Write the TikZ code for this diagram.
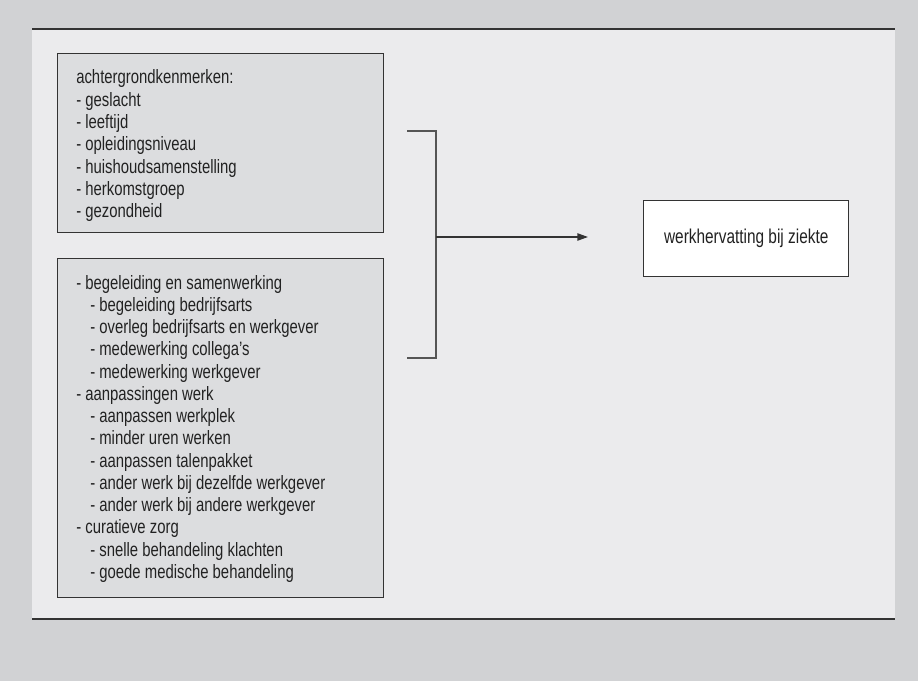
\documentclass[tikz,border=0pt]{standalone}
\usepackage{fontspec}
\setmainfont{Liberation Sans}[FakeStretch=0.77]
\usetikzlibrary{arrows.meta,positioning}
\definecolor{outerbg}{HTML}{D1D2D4}
\definecolor{panelbg}{HTML}{EBEBED}
\definecolor{boxbg}{HTML}{DCDDDF}
\definecolor{linedark}{HTML}{333333}
\definecolor{bracketgray}{HTML}{555555}
\definecolor{textcol}{HTML}{222222}
\tikzset{
  listbox/.style={draw=linedark, line width=1.1pt, fill=boxbg, anchor=north west,
    inner sep=0pt, minimum width=244.5pt},
  listtext/.style={anchor=base west, inner sep=0pt, text=textcol,
    font=\fontsize{14.5}{16.7}\selectfont},
  targetbox/.style={draw=linedark, line width=1.1pt, fill=white, anchor=north west,
    minimum width=153.75pt, minimum height=57pt, inner sep=0pt, align=center,
    text=textcol, font=\fontsize{15}{17}\selectfont},
  rule/.style={draw=linedark, line width=1.2pt},
  bracketline/.style={draw=bracketgray, line width=1.6pt},
  arrowline/.style={draw=linedark, line width=1pt, -{Triangle[length=8pt,width=5.5pt]}}
}
\newcommand{\sub}{\hspace*{10.5pt}}
\begin{document}
\begin{tikzpicture}[x=0.75pt,y=-0.75pt]
  \useasboundingbox (0,0) rectangle (918,681);
  \fill[outerbg] (0,0) rectangle (918,681);
  \fill[panelbg] (32,29) rectangle (895,619);
  \coordinate (tl) at (32,29);
  \coordinate (tr) at (895,29);
  \coordinate (bl) at (32,619);
  \coordinate (br) at (895,619);
  \draw[rule] (tl) -- (tr);
  \draw[rule] (bl) -- (br);

  \node[listbox, minimum height=134.25pt] (bg) at (57,53) {};
  \node[listtext] (bgtext) at (76,84) {%
    \begin{tabular}[t]{@{}l@{}}
    achtergrondkenmerken:\\
    - geslacht\\
    - leeftijd\\
    - opleidingsniveau\\
    - huishoudsamenstelling\\
    - herkomstgroep\\
    - gezondheid
    \end{tabular}};

  \node[listbox, minimum height=254.25pt] (int) at (57,258) {};
  \node[listtext] (inttext) at (76,289) {%
    \begin{tabular}[t]{@{}l@{}}
    - begeleiding en samenwerking\\
    \sub- begeleiding bedrijfsarts\\
    \sub- overleg bedrijfsarts en werkgever\\
    \sub- medewerking collega’s\\
    \sub- medewerking werkgever\\
    - aanpassingen werk\\
    \sub- aanpassen werkplek\\
    \sub- minder uren werken\\
    \sub- aanpassen talenpakket\\
    \sub- ander werk bij dezelfde werkgever\\
    \sub- ander werk bij andere werkgever\\
    - curatieve zorg\\
    \sub- snelle behandeling klachten\\
    \sub- goede medische behandeling
    \end{tabular}};

  \node[targetbox] (out) at (643,200) {werkhervatting bij ziekte};

  \coordinate (btop) at (407,131);
  \coordinate (bbot) at (407,358);
  \coordinate (bmid) at (436,237);
  \draw[bracketline] (btop) -| (bbot -| bmid) -- (bbot);
  \draw[arrowline] (bmid) -- ([xshift=-41.25pt]out.west |- bmid);
\end{tikzpicture}
\end{document}
